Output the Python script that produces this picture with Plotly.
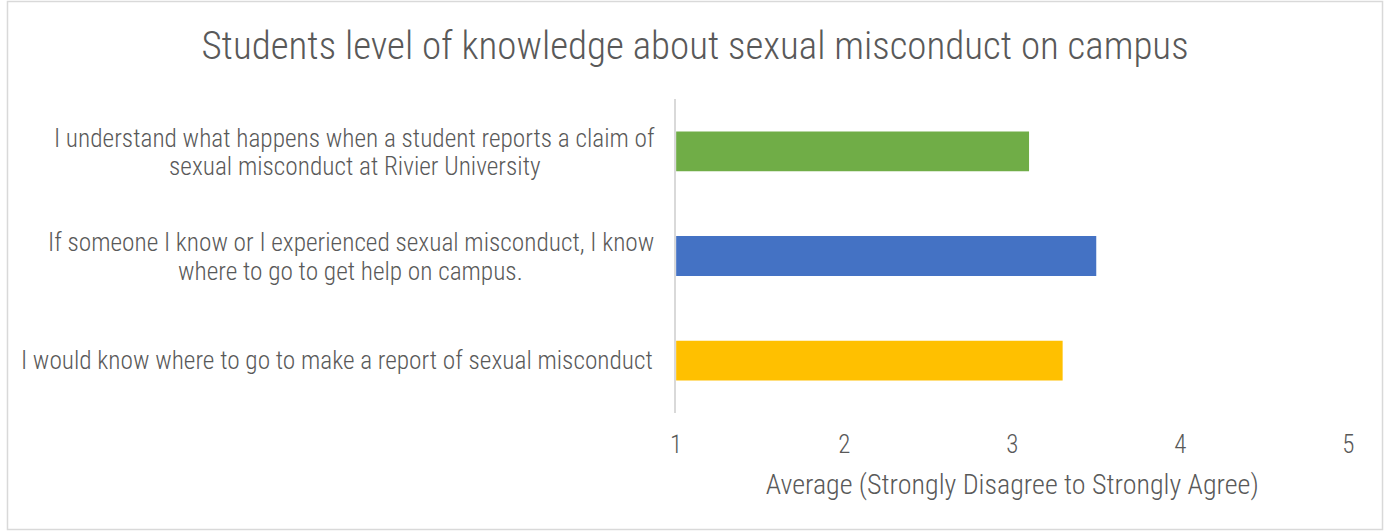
import plotly.graph_objects as go

categories = [
    "I understand what happens when a student reports a claim of<br>sexual misconduct at Rivier University",
    "If someone I know or I experienced sexual misconduct, I know<br>where to go to get help on campus.",
    "I would know where to go to make a report of sexual misconduct",
]
values = [3.1, 3.5, 3.3]
bar_colors = ["#70AD47", "#4472C4", "#FFC000"]
x_ticks = [1, 2, 3, 4, 5]

FONT = "Liberation Sans Narrow, Roboto Condensed, Roboto, sans-serif"
TXT = "#595959"
W, H = 1390, 531
LINE_H = 28
LABEL_RIGHT = 655
LABEL_CENTERS = [352, 348, None]  # pixel centre of multi-line label blocks

fig = go.Figure(go.Bar(
    y=categories, x=values, orientation="h",
    marker=dict(color=bar_colors, line=dict(width=0)),
    width=0.38, base=0, hoverinfo="skip",
))

fig.update_layout(
    width=W, height=H,
    margin=dict(l=0, r=0, t=0, b=0),
    paper_bgcolor="white", plot_bgcolor="white",
    showlegend=False,
    font=dict(family=FONT, color=TXT, size=25, weight=300),
    title=dict(text="Students level of knowledge about sexual misconduct on campus",
               x=0.5, xanchor="center", y=1 - 45 / H, yanchor="middle",
               font=dict(family=FONT, size=39, color=TXT, weight=300)),
    xaxis=dict(domain=[676 / W, 1354 / W], range=[1, 5], tickvals=x_ticks,
               showgrid=False, zeroline=False, showline=False, ticks="",
               ticklabelstandoff=14, fixedrange=True,
               tickfont=dict(size=25, color=TXT, weight=300),
               title=dict(text="Average (Strongly Disagree to Strongly Agree)",
                          font=dict(size=28, color=TXT, weight=300), standoff=16)),
    yaxis=dict(domain=[1 - 413 / H, 1 - 99 / H], autorange="reversed",
               showticklabels=False, showgrid=False, zeroline=False, fixedrange=True,
               showline=True, linecolor="#D9D9D9", linewidth=1.5, ticks=""),
)

for cat, cx in zip(categories, LABEL_CENTERS):
    lines = cat.split("<br>")
    n = len(lines)
    for i, ln in enumerate(lines):
        if cx is None:
            xpos, anchor = LABEL_RIGHT / W, "right"
        else:
            xpos, anchor = cx / W, "center"
        fig.add_annotation(x=xpos, xref="paper", y=cat, yref="y",
                           text=ln, showarrow=False, xanchor=anchor,
                           yshift=((n - 1) / 2 - i) * LINE_H + (-1 if n > 1 else 0),
                           align="center",
                           font=dict(size=25.3, color=TXT, family=FONT, weight=300))

fig.add_shape(type="rect", xref="paper", yref="paper",
              x0=1.5 / W, x1=1 - 1.5 / W, y0=1.5 / H, y1=1 - 1.5 / H,
              line=dict(color="#D9D9D9", width=1.5), fillcolor="rgba(0,0,0,0)")

fig.write_html("out.html", config={"displayModeBar": False},
               post_script="document.body.style.margin='0';document.body.style.overflow='hidden';")
